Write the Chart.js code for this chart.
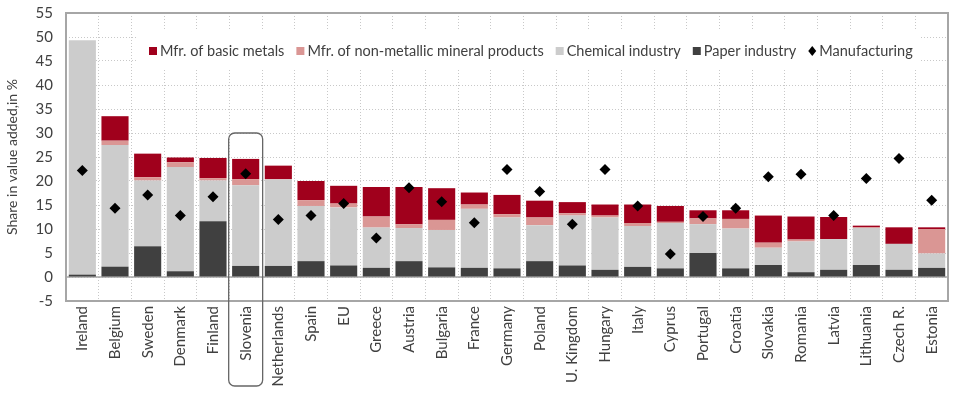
<!DOCTYPE html>
<html>
<head>
<meta charset="utf-8">
<script src="https://cdn.jsdelivr.net/npm/chart.js@4.4.0/dist/chart.umd.min.js"></script>
<style>
  html, body { margin: 0; padding: 0; background: #fff; }
  #wrap { width: 960px; height: 393px; position: relative; }
</style>
</head>
<body>
<div id="wrap"><canvas id="chart"></canvas></div>
<script>
// Data (share in value added, %)
var countries = ["Ireland", "Belgium", "Sweden", "Denmark", "Finland", "Slovenia", "Netherlands", "Spain", "EU",
  "Greece", "Austria", "Bulgaria", "France", "Germany", "Poland", "U. Kingdom", "Hungary", "Italy", "Cyprus",
  "Portugal", "Croatia", "Slovakia", "Romania", "Latvia", "Lithuania", "Czech R.", "Estonia"];

var paper = [0.5, 2.15, 6.4, 1.2, 11.6, 2.3, 2.3, 3.3, 2.4, 1.9, 3.3, 2.0, 1.9, 1.8, 3.3, 2.4, 1.5, 2.1, 1.8,
  5.0, 1.8, 2.5, 1.0, 1.5, 2.5, 1.5, 1.9];
var chemical = [48.8, 25.35, 13.7, 21.7, 8.5, 16.8, 18.0, 11.5, 12.1, 8.4, 6.9, 7.8, 12.3, 10.6, 7.5, 10.4, 10.9,
  8.5, 9.45, 6.0, 8.3, 3.6, 6.4, 6.4, 7.7, 5.4, 3.0];
var nonMetallic = [0, 0.9, 0.7, 1.0, 0.5, 1.3, 0.1, 1.2, 0.8, 2.3, 0.8, 2.1, 0.9, 0.7, 1.6, 0.5, 0.4, 0.65, 0.25,
  1.2, 2.0, 1.05, 0.4, 0, 0.15, 0, 5.1];
var basicMetals = [0, 5.1, 4.9, 1.0, 4.2, 4.2, 2.8, 4.0, 3.7, 6.15, 7.75, 6.6, 2.5, 4.0, 3.5, 2.3, 2.3, 3.85, 3.3,
  1.7, 1.8, 5.65, 4.8, 4.6, 0.35, 3.45, 0.35];
var manufacturing = [22.2, 14.3, 17.1, 12.8, 16.7, 21.5, 12.0, 12.8, 15.3, 8.1, 18.6, 15.7, 11.3, 22.4, 17.8,
  11.0, 22.4, 14.8, 4.8, 12.6, 14.3, 20.9, 21.4, 12.8, 20.5, 24.7, 16.0];

var yTicks = [-5, 0, 5, 10, 15, 20, 25, 30, 35, 40, 45, 50, 55];
var highlighted = "Slovenia";

var FONT = "Lato, sans-serif";
var TEXT = "#404040";

// legend drawn inside the plot on a white patch, like the original
var insideLegend = {
  id: "insideLegend",
  beforeDatasetsDraw: function(chart) {
    var ctx = chart.ctx;
    ctx.save();
    ctx.fillStyle = "#fff";
    ctx.fillRect(137, 31, 784, 39);
    ctx.font = "14.5px " + FONT;
    ctx.textBaseline = "middle";
    var order = [3, 2, 1, 0, 4];
    var x = 149, y = 51;
    order.forEach(function(i) {
      var ds = chart.data.datasets[i];
      if (ds.type === "line") {
        ctx.fillStyle = "#000";
        ctx.beginPath();
        ctx.moveTo(x + 4, y - 5);
        ctx.lineTo(x + 8, y);
        ctx.lineTo(x + 4, y + 5);
        ctx.lineTo(x, y);
        ctx.closePath();
        ctx.fill();
      } else {
        ctx.fillStyle = ds.backgroundColor;
        ctx.fillRect(x, y - 4, 8, 8);
      }
      ctx.fillStyle = TEXT;
      ctx.fillText(ds.label, x + 11, y);
      x += 11 + ctx.measureText(ds.label).width + 12;
    });
    ctx.restore();
  }
};

var frameAndBox = {
  id: "frameAndBox",
  beforeDatasetsDraw: function(chart) {
    var ctx = chart.ctx, a = chart.chartArea, ys = chart.scales.y;
    ctx.save();
    // zero line
    ctx.strokeStyle = "#a6a6a6";
    ctx.lineWidth = 1.5;
    var y0 = ys.getPixelForValue(0);
    ctx.beginPath();
    ctx.moveTo(a.left, y0);
    ctx.lineTo(a.right, y0);
    ctx.stroke();
    ctx.restore();
  },
  afterDraw: function(chart) {
    var ctx = chart.ctx, a = chart.chartArea, xs = chart.scales.x, ys = chart.scales.y;
    ctx.save();
    ctx.strokeStyle = "#a6a6a6";
    ctx.lineWidth = 2;
    ctx.strokeRect(a.left, a.top, a.right - a.left, a.bottom - a.top);
    // rounded box around the highlighted country
    var i = countries.indexOf(highlighted);
    var cx = xs.getPixelForValue(i);
    var half = (a.right - a.left) / countries.length * 0.52;
    var top = ys.getPixelForValue(30);
    ctx.strokeStyle = "#666";
    ctx.lineWidth = 1.3;
    ctx.beginPath();
    ctx.roundRect(cx - half, top, half * 2, 386 - top, 6);
    ctx.stroke();
    ctx.restore();
  }
};

var ctx = document.getElementById("chart");

var chartData = {
  labels: countries,
  datasets: [
    { label: "Paper industry", data: paper, backgroundColor: "#404040", stack: "s", order: 2 },
    { label: "Chemical industry", data: chemical, backgroundColor: "#cccccc", stack: "s", order: 2 },
    { label: "Mfr. of non-metallic mineral products", data: nonMetallic, backgroundColor: "#da9694", stack: "s", order: 2 },
    { label: "Mfr. of basic metals", data: basicMetals, backgroundColor: "#a0001c", stack: "s", order: 2 },
    { type: "line", label: "Manufacturing", data: manufacturing, stack: "m", order: 1, showLine: false,
      pointStyle: "rectRot", pointRadius: 5.5, pointHoverRadius: 5.5,
      backgroundColor: "#000", borderColor: "#000", borderWidth: 0 }
  ]
};

var chartOptions = {
  responsive: true,
  maintainAspectRatio: false,
  animation: false,
  layout: { padding: { top: 13, right: 12, left: 0, bottom: 0 } },
  datasets: { bar: { barPercentage: 0.83, categoryPercentage: 1 } },
  plugins: { legend: { display: false }, tooltip: { enabled: false } },
  scales: {
    x: {
      stacked: true,
      grid: { color: "#c8c8c8", drawTicks: false, offset: true },
      border: { display: false, dash: [1, 2] },
      ticks: { color: TEXT, font: { family: FONT, size: 15 }, maxRotation: 90, minRotation: 90, padding: 5, autoSkip: false },
      afterFit: function(scale) {
        scale.height = 92;
        scale.paddingTop = 0; scale.paddingBottom = 0; scale.paddingLeft = 0; scale.paddingRight = 0;
      }
    },
    y: {
      stacked: true,
      min: -5, max: 55,
      afterBuildTicks: function(scale) { scale.ticks = yTicks.map(function(v) { return { value: v }; }); },
      grid: { color: "#c8c8c8", drawTicks: false },
      border: { display: false, dash: [1, 2] },
      ticks: { color: TEXT, font: { family: FONT, size: 15 }, padding: 13 },
      title: { display: true, text: "Share in value added,in %", color: TEXT, font: { family: FONT, size: 14 }, padding: { top: 4, bottom: 0 } },
      afterFit: function(scale) {
        scale.width = 66;
        scale.paddingTop = 0; scale.paddingBottom = 0;
      }
    }
  }
};

var config = {
  type: "bar",
  data: chartData,
  options: chartOptions,
  plugins: [frameAndBox, insideLegend]
};

var barChart = new Chart(ctx, config);
</script>
</body>
</html>
